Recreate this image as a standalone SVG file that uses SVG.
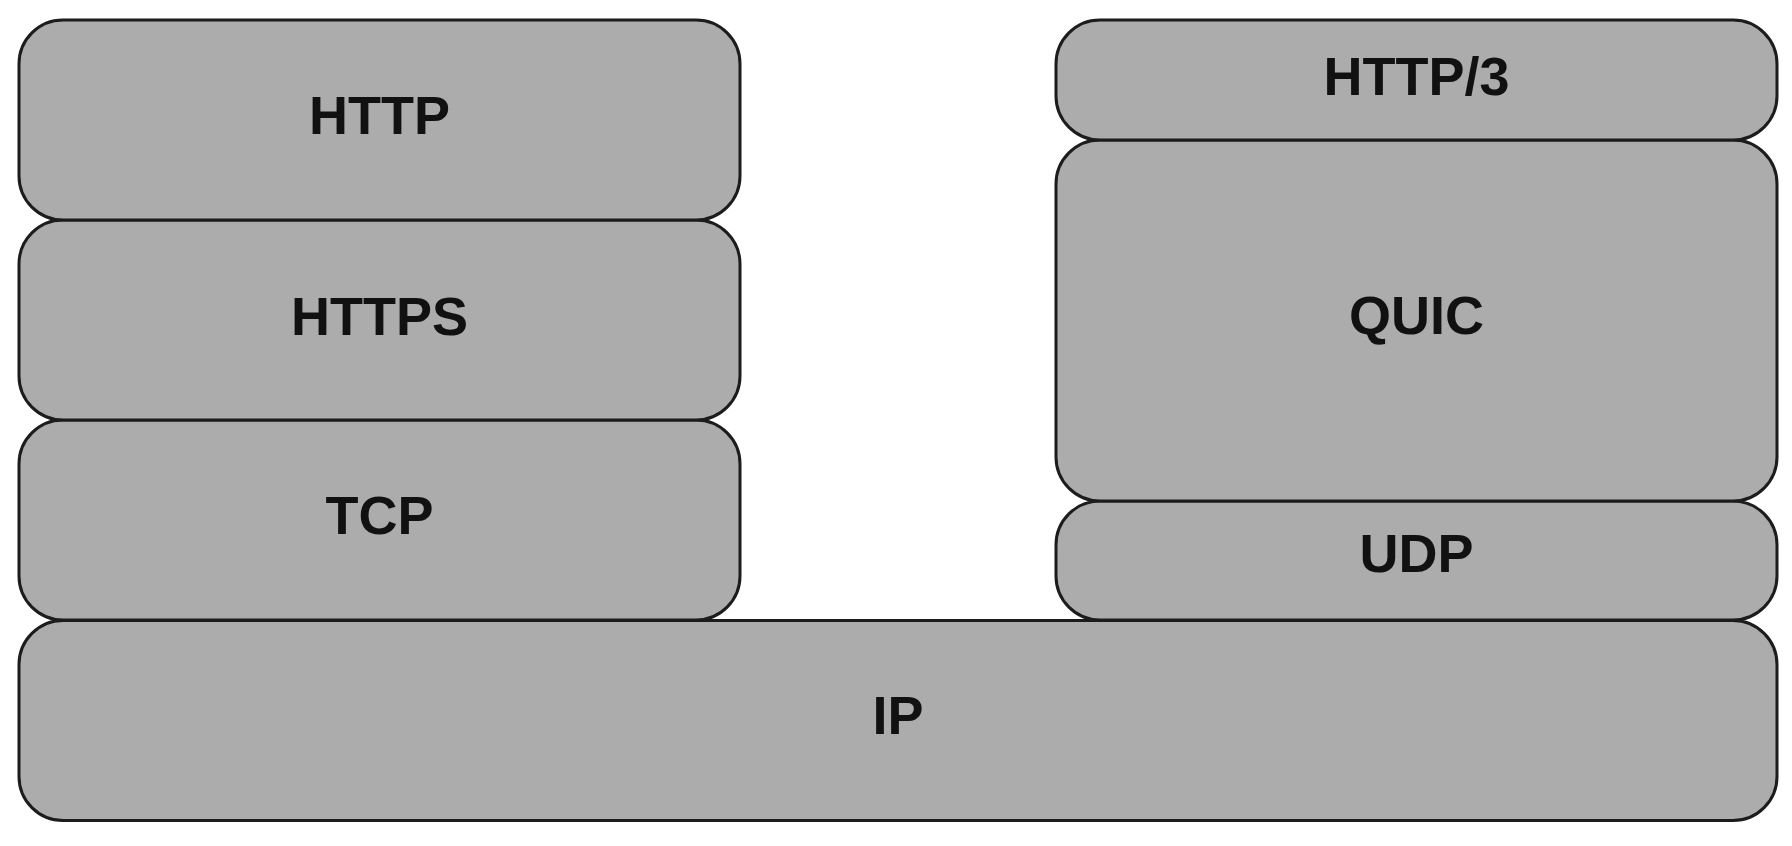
<svg xmlns="http://www.w3.org/2000/svg" width="1792" height="846" viewBox="0 0 1792 846">
<style>
.box{fill:#acacac;stroke:#1c1c1c;stroke-width:3}
.lbl{font-family:"Liberation Sans",Arial,sans-serif;font-weight:bold;font-size:54px;fill:#111;text-anchor:middle}
</style>
<rect width="1792" height="846" fill="#ffffff"/>
<g id="ip"><rect class="box" x="19" y="620.5" width="1758" height="200" rx="44" ry="44"/><text class="lbl" x="898" y="734">IP</text></g>
<g id="tcp"><rect class="box" x="19" y="420" width="721" height="200" rx="44" ry="44"/><text class="lbl" x="379.5" y="534">TCP</text></g>
<g id="https"><rect class="box" x="19" y="220" width="721" height="200" rx="44" ry="44"/><text class="lbl" x="379.5" y="334.5">HTTPS</text></g>
<g id="http"><rect class="box" x="19" y="20" width="721" height="200" rx="44" ry="44"/><text class="lbl" x="379.5" y="134">HTTP</text></g>
<g id="udp"><rect class="box" x="1056" y="501" width="721" height="119" rx="44" ry="44"/><text class="lbl" x="1416.5" y="572">UDP</text></g>
<g id="quic"><rect class="box" x="1056" y="140" width="721" height="361" rx="44" ry="44"/><text class="lbl" x="1416.5" y="333.5">QUIC</text></g>
<g id="http3"><rect class="box" x="1056" y="20" width="721" height="120" rx="44" ry="44"/><text class="lbl" x="1416.5" y="94.5">HTTP/3</text></g>
<g id="connectors"></g>
</svg>
